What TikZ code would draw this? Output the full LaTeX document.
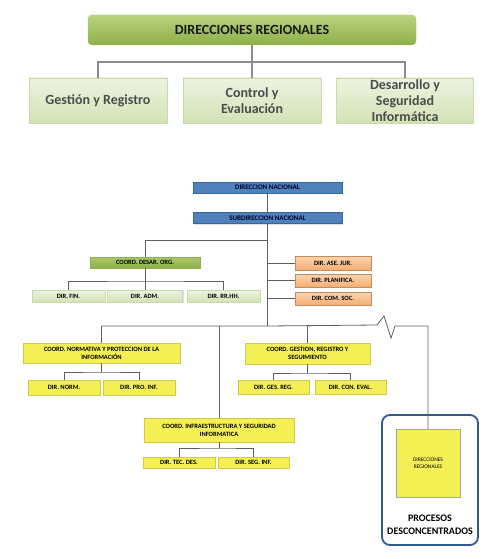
\documentclass[tikz,border=0pt]{standalone}
\usepackage{fontspec}
\setmainfont{Carlito}
\usetikzlibrary{shadows}

\definecolor{titletop}{HTML}{B9D27F}
\definecolor{titlebot}{HTML}{8DAE48}
\definecolor{titleedge}{HTML}{A9C46C}
\definecolor{subtop}{HTML}{EDF3E0}
\definecolor{subbot}{HTML}{D3E2B5}
\definecolor{subedge}{HTML}{C9DAA8}
\definecolor{linegray}{HTML}{8C8C8C}
\definecolor{wiregray}{HTML}{5F5F5F}
\definecolor{bluefill}{HTML}{4F81BD}
\definecolor{blueedge}{HTML}{3A6599}
\definecolor{orgtop}{HTML}{ADC86F}
\definecolor{orgbot}{HTML}{8EAF48}
\definecolor{ortop}{HTML}{FBD4B0}
\definecolor{orbot}{HTML}{F5AE74}
\definecolor{yellowfill}{HTML}{F3EF55}
\definecolor{procedge}{HTML}{2E5A8E}

\begin{document}
\begin{tikzpicture}[x=1pt,y=-1pt,
    topbox/.style={rectangle,rounded corners=4pt,draw=titleedge,top color=titletop,bottom color=titlebot,
        minimum width=328pt,minimum height=30pt,inner sep=0pt,
        font=\fontsize{14}{16}\selectfont\bfseries,text=black!90},
    subbox/.style={rectangle,draw=subedge,top color=subtop,bottom color=subbot,
        minimum width=138pt,minimum height=45pt,inner sep=0pt,align=center,
        font=\fontsize{14}{16}\selectfont\bfseries,text=black!70},
    unit/.style={rectangle,inner sep=0pt,align=center,text=black,
        font=\fontsize{6.5}{8}\selectfont\bfseries,
        drop shadow={opacity=0.25,shadow xshift=1pt,shadow yshift=-1pt}},
    bluebox/.style={unit,draw=blueedge,fill=bluefill,text=black!85!blue,minimum width=149pt,minimum height=11pt,
        font=\fontsize{7}{8}\selectfont\bfseries},
    orgbox/.style={unit,draw=orgbot,top color=orgtop,bottom color=orgbot,minimum height=11pt},
    greenbox/.style={unit,draw=subedge,top color=subtop,bottom color=subbot,minimum height=12pt},
    orangebox/.style={unit,draw=orbot!80!black,top color=ortop,bottom color=orbot,minimum width=76pt,minimum height=13pt},
    yellowbox/.style={unit,draw=yellowfill!85!black,fill=yellowfill},
    link/.style={draw=linegray,line width=1.4pt},
    wire/.style={draw=wiregray,line width=0.8pt}]
    \useasboundingbox (0,0) rectangle (491,559);

    % Regional structure
    \node[topbox] (dirReg) at (252,30) {DIRECCIONES REGIONALES};
    \node[subbox] (gestReg) at (98,100.5) {Gestión y Registro};
    \node[subbox] (ctrlEval) at (252,100.5) {Control y\\Evaluación};
    \node[subbox,minimum width=137pt] (desSeg) at (405,100.5) {Desarrollo y\\Seguridad\\Informática};

    \coordinate (topBar) at (252,62);
    \draw[link] (dirReg.south) -- (ctrlEval.north);
    \draw[link] (gestReg.north) |- (topBar) -| (desSeg.north);

    % National structure
    \node[bluebox] (dirNac) at (267.5,187.5) {DIRECCION NACIONAL};
    \node[bluebox] (subNac) at (267.5,218) {SUBDIRECCION NACIONAL};

    \node[orgbox,minimum width=110pt] (coordOrg) at (145,262.5) {COORD. DESAR. ORG.};
    \node[greenbox,minimum width=73pt] (dirFin) at (68.5,296) {DIR. FIN.};
    \node[greenbox,minimum width=75pt] (dirAdm) at (145,296) {DIR. ADM.};
    \node[greenbox,minimum width=73pt] (dirRrhh) at (223.5,296) {DIR. RR.HH.};

    \node[orangebox,minimum height=14pt] (aseJur) at (333,263) {DIR. ASE. JUR.};
    \node[orangebox] (planif) at (333,280.5) {DIR. PLANIFICA.};
    \node[orangebox] (comSoc) at (333,298.5) {DIR. COM. SOC.};

    % Coordinations
    \node[yellowbox,minimum width=157pt,minimum height=20pt] (coordNorm) at (101.5,353)
        {COORD. NORMATIVA Y PROTECCION DE LA\\INFORMACIÓN};
    \node[yellowbox,minimum width=72pt,minimum height=15pt] (dirNorm) at (64,387.5) {DIR. NORM.};
    \node[yellowbox,minimum width=72pt,minimum height=15pt] (dirProInf) at (139,387.5) {DIR. PRO. INF.};

    \node[yellowbox,minimum width=125pt,minimum height=21pt] (coordGest) at (307.5,353.5)
        {COORD. GESTION, REGISTRO Y\\SEGUIMIENTO};
    \node[yellowbox,minimum width=71pt,minimum height=14pt] (dirGesReg) at (273.5,387) {DIR. GES. REG.};
    \node[yellowbox,minimum width=71pt,minimum height=14pt] (dirConEval) at (350.5,387) {DIR. CON. EVAL.};

    \node[yellowbox,minimum width=150pt,minimum height=24pt] (coordInfra) at (219,430)
        {COORD. INFRAESTRUCTURA Y SEGURIDAD\\INFORMATICA};
    \node[yellowbox,minimum width=72pt,minimum height=11pt] (dirTecDes) at (179,462.5) {DIR. TEC. DES.};
    \node[yellowbox,minimum width=71pt,minimum height=11pt] (dirSegInf) at (253.5,462.5) {DIR. SEG. INF.};

    % Deconcentrated processes
    \node[rectangle,rounded corners=8pt,draw=procedge,line width=1.8pt,fill=white,
        minimum width=96pt,minimum height=130pt] (proc) at (430,480) {};
    \node[yellowbox,draw=black!35,minimum width=64pt,minimum height=68pt,
        font=\fontsize{5.5}{7}\selectfont] (dirRegP) at (428,463) {DIRECCIONES\\REGIONALES};
    \node[align=center,font=\fontsize{10}{13}\selectfont\bfseries,text=black] (procText) at (430,525)
        {PROCESOS\\DESCONCENTRADOS};

    % Connectors
    \coordinate (hub) at (267.5,326);
    \coordinate (brOrg) at (267.5,240);
    \coordinate (orgBar) at (145,281);
    \coordinate (normBar) at (101.5,372);
    \coordinate (gestBar) at (307.5,373);
    \coordinate (infraBar) at (219,448);
    \coordinate (zigA) at (377,325);
    \coordinate (zigB) at (384,316);
    \coordinate (zigC) at (391,338);
    \coordinate (zigD) at (395,326);

    \draw[wire] (dirNac.south) -- (subNac.north);
    \draw[wire] (subNac.south) -- (hub);
    \draw[wire] (brOrg) -| (coordOrg.north);
    \draw[wire] (coordOrg.south) -- (orgBar);
    \draw[wire] (dirFin.north) |- (orgBar) -| (dirRrhh.north);
    \draw[wire] (orgBar) -- (dirAdm.north);
    \draw[wire] (aseJur.west -| hub) -- (aseJur.west);
    \draw[wire] (planif.west -| hub) -- (planif.west);
    \draw[wire] (comSoc.west -| hub) -- (comSoc.west);

    \draw[wire] (coordNorm.north) |- (hub) -- (zigA) -- (zigB) -- (zigC) -- (zigD) -| (dirRegP.north);
    \draw[wire] (hub -| coordGest.north) -- (coordGest.north);
    \draw[wire] (hub -| coordInfra.north) -- (coordInfra.north);

    \draw[wire] (coordNorm.south) -- (normBar);
    \draw[wire] (dirNorm.north) |- (normBar) -| (dirProInf.north);
    \draw[wire] (coordGest.south) -- (gestBar);
    \draw[wire] (dirGesReg.north) |- (gestBar) -| (dirConEval.north);
    \draw[wire] (coordInfra.south) -- (infraBar);
    \draw[wire] (dirTecDes.north) |- (infraBar) -| (dirSegInf.north);
\end{tikzpicture}
\end{document}
